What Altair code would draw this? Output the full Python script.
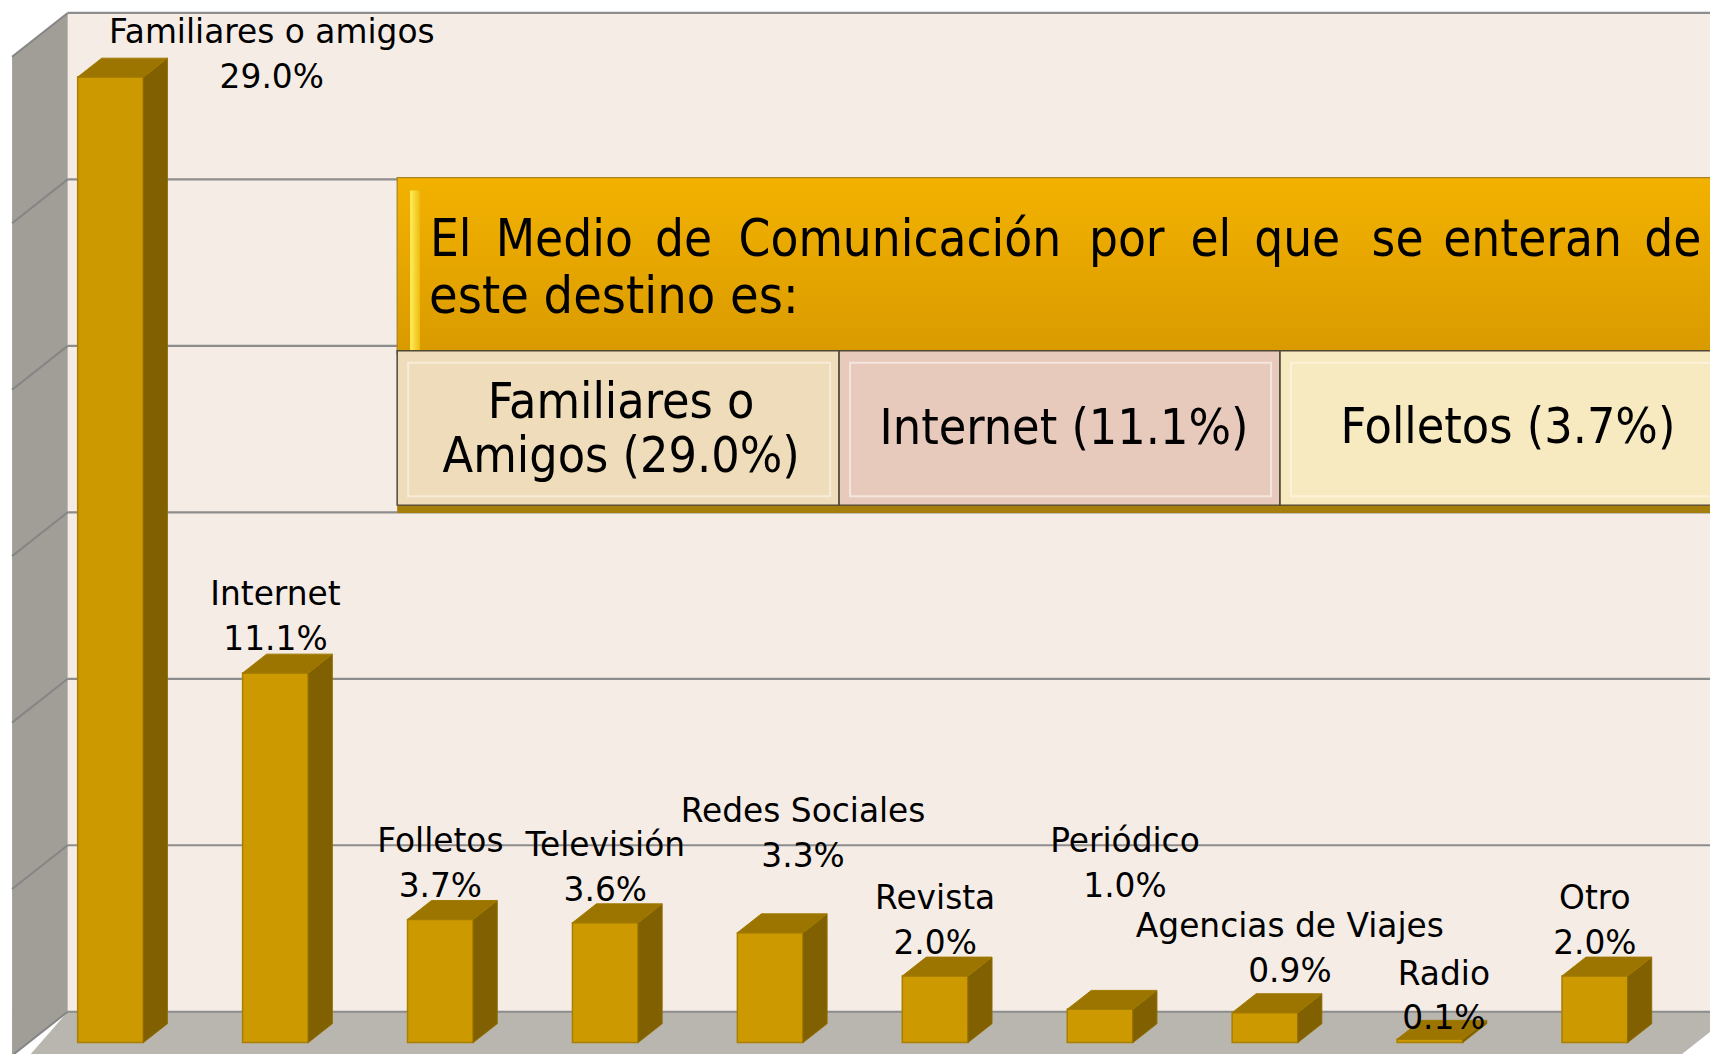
import altair as alt
import pandas as pd

# ---------------- data ----------------
categories = ["Familiares o amigos", "Internet", "Folletos", "Televisión", "Redes Sociales",
              "Revista", "Periódico", "Agencias de Viajes", "Radio", "Otro"]
values = [29.0, 11.1, 3.7, 3.6, 3.3, 2.0, 1.0, 0.9, 0.1, 2.0]
grid_values = [0, 5, 10, 15, 20, 25, 30]

title_words = ["El", "Medio", "de", "Comunicación", "por", "el", "que", "se", "enteran", "de"]
title_line2 = "este destino es:"
box_labels = ["Familiares o\nAmigos (29.0%)", "Internet (11.1%)", "Folletos (3.7%)"]

# manual nudges of the data labels (px)
label_shift = [162, 0, 0, 0, 33, 0, 25, 25, 14, 0]
label_lift = [44, 78, 78, 77, 121, 77, 168, 86, 65, 77]
# justified title: left edge of every word (chart px)
title_word_x = [424, 490, 650, 734, 1086, 1188, 1252, 1370, 1442, 1644]

# ---------------- geometry / scales ----------------
W, H = 1710, 1046
PX_X = 165.7          # px per category slot
PX_Y = 33.45          # px per percent
X0 = 103.0            # chart px of first bar centre
Y0 = 1037.0           # chart px of value 0 on the front plane
XMIN = -X0 / PX_X
XMAX = (W - X0) / PX_X
YMIN = -(H - Y0) / PX_Y
YMAX = Y0 / PX_Y
DZX = 1.27            # horizontal shift per px of depth
HALF = 33.0 / PX_X
BAR_DEPTH = 19.0
WALL_Z = 31.0
FRONT_Z = -13.0


def zx(z):
    return z * DZX / PX_X


def zy(z):
    return z / PX_Y


def px_x(p):
    return p / PX_X + XMIN


XL0 = px_x(20.6)      # left wall plane at depth 0
XR0 = px_x(1696.4)    # floor right edge at depth 0

xs = alt.Scale(domain=[XMIN, XMAX], nice=False, zero=False)
ys = alt.Scale(domain=[YMIN, YMAX], nice=False, zero=False)


def X(f):
    return alt.X(f"{f}:Q", scale=xs, axis=None)


def Y(f):
    return alt.Y(f"{f}:Q", scale=ys, axis=None)


# ---------------- walls & floor ----------------
back_df = pd.DataFrame({"x1": [XL0 + zx(WALL_Z)], "x2": [XMAX + 1],
                        "y1": [zy(WALL_Z)], "y2": [30 + zy(WALL_Z)]})
back = alt.Chart(back_df).mark_rect(fill="#f5ece6").encode(
    x=X("x1"), x2="x2:Q", y=Y("y1"), y2="y2:Q")

left_df = pd.DataFrame({"x": [XL0 + zx(FRONT_Z), XL0 + zx(WALL_Z)],
                        "lo": [zy(FRONT_Z), zy(WALL_Z)],
                        "hi": [30 + zy(FRONT_Z), 30 + zy(WALL_Z)]})
left = alt.Chart(left_df).mark_area(fill="#a19e98", opacity=1).encode(
    x=X("x"), y=Y("lo"), y2="hi:Q")

floor_df = pd.DataFrame({"y": [zy(FRONT_Z - 20), zy(WALL_Z)],
                         "xa": [XL0 + zx(FRONT_Z), XL0 + zx(WALL_Z)],
                         "xb": [XR0 + zx(FRONT_Z - 20), XR0 + zx(WALL_Z)]})
floor = alt.Chart(floor_df).mark_area(orient="horizontal", fill="#b9b5af", opacity=1).encode(
    y=Y("y"), x=X("xa"), x2="xb:Q")

grid_back_df = pd.DataFrame({"y": [g + zy(WALL_Z) for g in grid_values],
                             "x1": [XL0 + zx(WALL_Z)] * len(grid_values),
                             "x2": [XMAX + 1] * len(grid_values)})
grid_back = alt.Chart(grid_back_df).mark_rule(color="#8d8d8d", strokeWidth=2.2).encode(
    x=X("x1"), x2="x2:Q", y=Y("y"))

grid_left_df = pd.DataFrame({"xa": [XL0 + zx(WALL_Z)] * len(grid_values),
                             "xb": [XL0 + zx(FRONT_Z)] * len(grid_values),
                             "ya": [g + zy(WALL_Z) for g in grid_values],
                             "yb": [g + zy(FRONT_Z) for g in grid_values]})
grid_left = alt.Chart(grid_left_df).mark_rule(color="#858585", strokeWidth=2).encode(
    x=X("xa"), x2="xb:Q", y=Y("ya"), y2="yb:Q")

# ---------------- bars ----------------
idx = list(range(len(categories)))
front_df = pd.DataFrame({"cat": categories,
                         "x1": [i - HALF for i in idx], "x2": [i + HALF for i in idx],
                         "y1": [0.0] * len(idx), "y2": values})
front = alt.Chart(front_df).mark_rect(fill="#cc9900", stroke="#a87f00", strokeWidth=1.5).encode(
    x=X("x1"), x2="x2:Q", y=Y("y1"), y2="y2:Q")

side_rows, top_rows = [], []
for i, (c, v) in enumerate(zip(categories, values)):
    side_rows.append({"cat": c, "x": i + HALF, "lo": 0.0, "hi": v})
    side_rows.append({"cat": c, "x": i + HALF + zx(BAR_DEPTH), "lo": zy(BAR_DEPTH),
                      "hi": v + zy(BAR_DEPTH)})
    top_rows.append({"cat": c, "y": v, "xa": i - HALF, "xb": i + HALF})
    top_rows.append({"cat": c, "y": v + zy(BAR_DEPTH), "xa": i - HALF + zx(BAR_DEPTH),
                     "xb": i + HALF + zx(BAR_DEPTH)})
side = alt.Chart(pd.DataFrame(side_rows)).mark_area(
    fill="#806000", stroke="#8f6c00", strokeWidth=1, opacity=1).encode(
    x=X("x"), y=Y("lo"), y2="hi:Q", detail="cat:N")
top = alt.Chart(pd.DataFrame(top_rows)).mark_area(
    orient="horizontal", fill="#9c7500", stroke="#a07a00", strokeWidth=1, opacity=1).encode(
    y=Y("y"), x=X("xa"), x2="xb:Q", detail="cat:N")

# ---------------- data labels ----------------
lab_df = pd.DataFrame({
    "x": [i + s / PX_X for i, s in zip(idx, label_shift)],
    "y": [v + l / PX_Y for v, l in zip(values, label_lift)],
    "t": [f"{c}\n{v:.1f}%" for c, v in zip(categories, values)]})
labels = alt.Chart(lab_df).mark_text(
    font="DejaVu Sans", fontSize=33, lineHeight=45, lineBreak="\n",
    align="center", baseline="middle", color="#000000").encode(
    x=X("x"), y=Y("y"), text="t:N")

# ---------------- title box ----------------
one = pd.DataFrame({"a": [0]})


def box(x1, x2, y1, y2, **kw):
    return alt.Chart(one).mark_rect(**kw).encode(
        x=alt.value(x1), x2=alt.value(x2), y=alt.value(y1), y2=alt.value(y2))


orange = box(391, 1716, 168, 345, fill=alt.Gradient(
    gradient="linear", x1=0, x2=0, y1=0, y2=1,
    stops=[alt.GradientStop(color="#f3b200", offset=0),
           alt.GradientStop(color="#d99a00", offset=1)]),
    stroke="#a98320", strokeWidth=1.2)
bevel = box(404, 414, 181, 343, fill=alt.Gradient(
    gradient="linear", x1=0, x2=1, y1=0, y2=0,
    stops=[alt.GradientStop(color="#ffef5a", offset=0),
           alt.GradientStop(color="#eebb10", offset=1)]))
shadow = box(391, 1716, 495, 505, fill="#a57e0c")
sub1 = box(391, 835, 342, 497, fill="#efdcbb", stroke="#4f4636", strokeWidth=1.5)
sub2 = box(835, 1278, 342, 497, fill="#e8cabc", stroke="#4f4636", strokeWidth=1.5)
sub3 = box(1278, 1716, 342, 497, fill="#f7e9c0", stroke="#4f4636", strokeWidth=1.5)
in1 = box(402, 826, 354, 488, fill=None, stroke="#f8f0de", strokeWidth=2, strokeOpacity=0.8)
in2 = box(846, 1269, 354, 488, fill=None, stroke="#f6ece6", strokeWidth=2, strokeOpacity=0.8)
in3 = box(1289, 1716, 354, 488, fill=None, stroke="#fcf5e0", strokeWidth=2, strokeOpacity=0.8)


def txt(s, x, y, align, size, font="DejaVu Sans Condensed", baseline="alphabetic"):
    return alt.Chart(one).mark_text(
        font=font, fontSize=size, align=align, baseline=baseline, color="#000000",
        lineBreak="\n", lineHeight=55).encode(
        x=alt.value(x), y=alt.value(y), text=alt.value(s))


word_df = pd.DataFrame({"w": title_words, "px": title_word_x})
words = alt.Chart(word_df).mark_text(
    font="DejaVu Sans Condensed", fontSize=51, align="left", baseline="alphabetic",
    color="#000000").encode(x=alt.X("px:Q", scale=None, axis=None), y=alt.value(247), text="w:N")
t4 = txt(title_line2, 423, 304, "left", 52)
b1 = txt(box_labels[0], 616, 409, "center", 50)
b2 = txt(box_labels[1], 1061, 436, "center", 50)
b3 = txt(box_labels[2], 1507, 435, "center", 50)

chart = alt.layer(
    back, left, floor, grid_back, grid_left,
    front, side, top,
    orange, bevel, shadow, sub1, sub2, sub3, in1, in2, in3,
    words, t4, b1, b2, b3,
    labels,
).properties(
    width=W, height=H, padding=0,
    autosize=alt.AutoSizeParams(type="none"),
    background="white",
).configure_view(stroke=None)

chart.save("out.html", embed_options={"renderer": "svg", "actions": False})
